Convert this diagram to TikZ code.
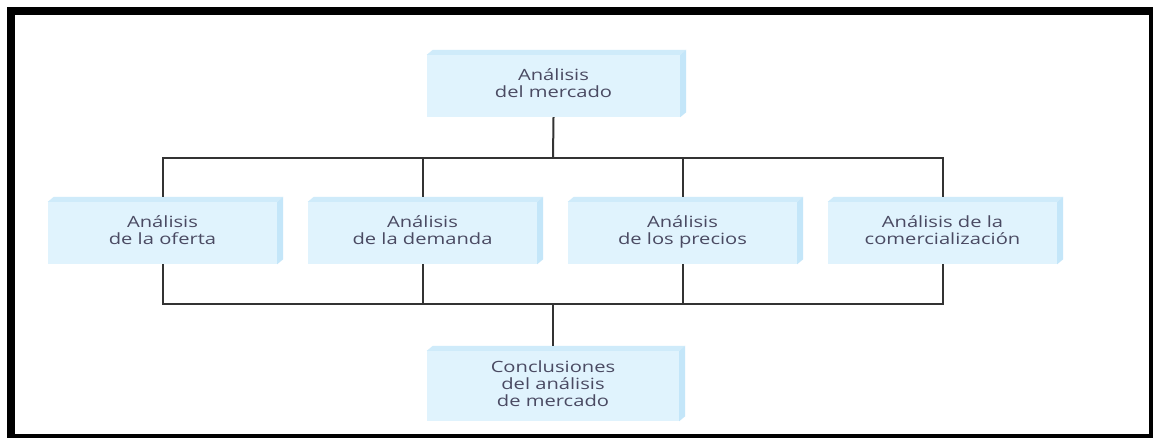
\documentclass[tikz,border=0pt]{standalone}
\usepackage{fontspec}
\newfontfamily\boxfont[FakeStretch=1.3]{Open Sans}
\definecolor{frontc}{HTML}{E0F3FD}
\definecolor{sidec}{HTML}{C4E6F9}
\definecolor{topc}{HTML}{CFEBFA}
\definecolor{txtc}{HTML}{4A4A62}
\definecolor{linec}{HTML}{333333}
\tikzset{
  caja/.style={fill=frontc, draw=none, inner sep=0pt, align=center,
    text=txtc, font=\boxfont\fontsize{15.5}{17}\selectfont},
  conector/.style={draw=linec, line width=2pt},
}
\newcommand{\carasbox}[1]{%
  \fill[topc] (#1.north west) -- ++(6,-5) -- ([xshift=6pt,yshift=5pt]#1.north east) -- (#1.north east) -- cycle;
  \fill[sidec] (#1.north east) -- ++(6,-5) -- ([xshift=6pt,yshift=5pt]#1.south east) -- (#1.south east) -- cycle;
}
\begin{document}
\begin{tikzpicture}[x=1pt,y=-1pt]
\useasboundingbox (0,0) rectangle (1153,437);
\fill[white] (0,0) rectangle (1153,437);
\draw[line width=8pt, black] (11,11) rectangle (1153,438);

\node[caja, minimum width=253pt, minimum height=62pt] (top) at (553.5,86) {\strut Análisis\\del mercado\strut};
\node[caja, minimum width=229pt, minimum height=62pt] (b1) at (162.5,233) {\strut Análisis\\de la oferta\strut};
\node[caja, minimum width=229pt, minimum height=62pt] (b2) at (422.5,233) {\strut Análisis\\de la demanda\strut};
\node[caja, minimum width=229pt, minimum height=62pt] (b3) at (682.5,233) {\strut Análisis\\de los precios\strut};
\node[caja, minimum width=229pt, minimum height=62pt] (b4) at (942.5,233) {\strut Análisis de la\\comercialización\strut};
\node[caja, minimum width=252pt, minimum height=70pt] (conc) at (553,386) {\strut Conclusiones\\del análisis\\de mercado\strut};
\carasbox{top}
\carasbox{b1}
\carasbox{b2}
\carasbox{b3}
\carasbox{b4}
\carasbox{conc}

\coordinate (hu) at (553,158);
\coordinate (hd) at (553,304);
\draw[conector] (top.south) -- (hu);
\draw[conector] ([yshift=5pt]b1.north) |- (hu);
\draw[conector] (hu) -| ([yshift=5pt]b4.north);
\draw[conector] ([yshift=5pt]b2.north) -- (b2.north |- hu);
\draw[conector] ([yshift=5pt]b3.north) -- (b3.north |- hu);
\draw[conector] (b1.south) |- (hd);
\draw[conector] (hd) -| (b4.south);
\draw[conector] (b2.south) -- (b2.south |- hd);
\draw[conector] (b3.south) -- (b3.south |- hd);
\draw[conector] (hd) -- ([yshift=5pt]conc.north);
\end{tikzpicture}
\end{document}
